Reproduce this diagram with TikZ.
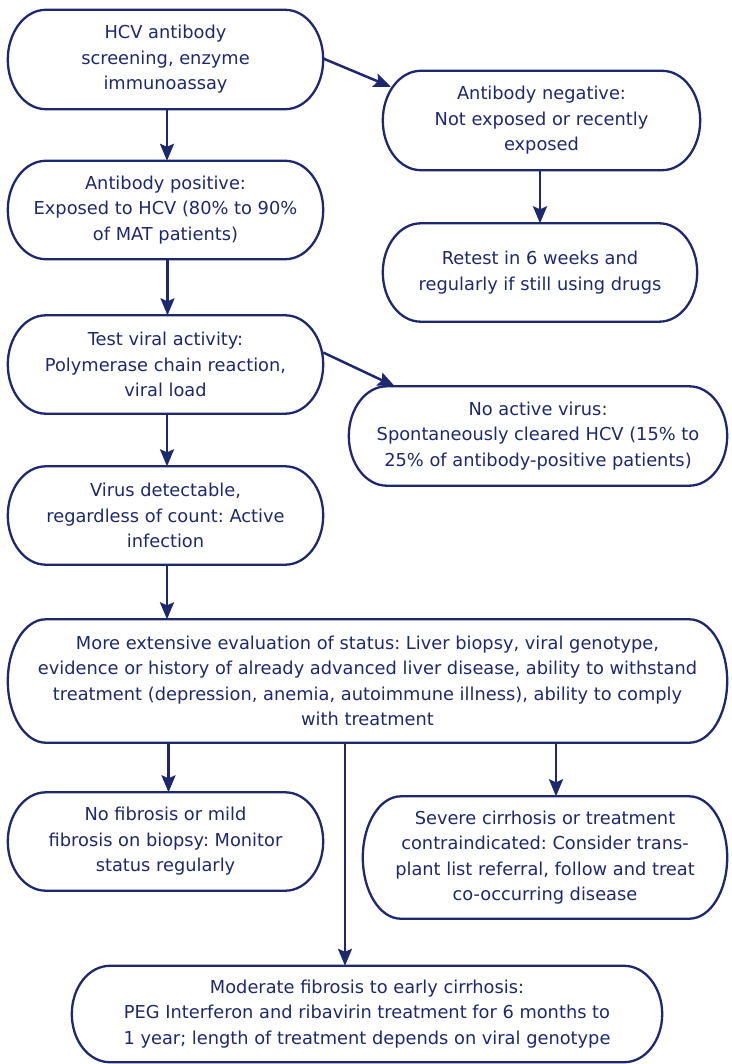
\documentclass[tikz,border=0pt]{standalone}
\usepackage{fontspec}
\setmainfont{DejaVu Sans}
\usetikzlibrary{arrows.meta,calc}
\definecolor{navy}{RGB}{30,40,110}
\tikzset{
  ln/.style={draw=navy, line width=2.3pt},
  arr/.style={draw=navy, line width=2.5pt, -{Stealth[length=17pt,width=14pt,inset=3pt]}},
  box/.style={inner sep=0pt, align=center, text=navy, font=\fontsize{17.8}{25.5}\selectfont},
}
\newcommand\pill[1]{%
  \draw[ln] let \p1=(#1.north), \p2=(#1.south), \n1={0.5*(\y1-\y2)} in
    ([xshift=38pt]#1.north west) -- ([xshift=-38pt]#1.north east)
    arc[start angle=90, end angle=-90, x radius=38pt, y radius=\n1]
    -- ([xshift=38pt]#1.south west)
    arc[start angle=270, end angle=90, x radius=38pt, y radius=\n1] -- cycle;}
\begin{document}
\frenchspacing
\begin{tikzpicture}[x=1pt,y=-1pt]
\useasboundingbox (0,0) rectangle (731,1064);
\node[box, minimum width=315pt, minimum height=99pt] (b1) at (165.5,59.5) {HCV antibody\\screening, enzyme\\immunoassay};
\node[box, minimum width=317pt, minimum height=99pt] (b2) at (541.5,120.5) {Antibody negative:\\Not exposed or recently\\exposed};
\node[box, minimum width=315pt, minimum height=98pt] (b3) at (165.5,210) {Antibody positive:\\Exposed to HCV (80\% to 90\%\\of MAT patients)};
\node[box, minimum width=314pt, minimum height=98pt] (b4) at (540,272.5) {Retest in 6 weeks and\\regularly if still using drugs};
\node[box, minimum width=315pt, minimum height=98pt] (b5) at (165.5,364.5) {Test viral activity:\\Polymerase chain reaction,\\viral load};
\node[box, minimum width=378pt, minimum height=99pt] (b6) at (538,436) {No active virus:\\Spontaneously cleared HCV (15\% to\\25\% of antibody-positive patients)};
\node[box, minimum width=315pt, minimum height=98pt] (b7) at (165.5,515.5) {Virus detectable,\\regardless of count: Active\\infection};
\node[box, minimum width=719pt, minimum height=123pt] (b8) at (367.5,681) {More extensive evaluation of status: Liver biopsy, viral genotype,\\evidence or history of already advanced liver disease, ability to withstand\\treatment (depression, anemia, autoimmune illness), ability to comply\\with treatment};
\node[box, minimum width=315pt, minimum height=98pt] (b9) at (165.5,841.5) {No fibrosis or mild\\fibrosis on biopsy: Monitor\\status regularly};
\node[box, minimum width=364pt, minimum height=122pt] (b10) at (545,857.5) {Severe cirrhosis or treatment\\contraindicated: Consider trans-\\plant list referral, follow and treat\\co-occurring disease};
\node[box, minimum width=590pt, minimum height=96pt] (b11) at (367,1014) {Moderate fibrosis to early cirrhosis:\\PEG Interferon and ribavirin treatment for 6 months to\\1 year; length of treatment depends on viral genotype};
\foreach \bx in {b1,b2,b3,b4,b5,b6,b7,b8,b9,b10,b11} {\pill{\bx}}
\draw[arr] ([xshift=1.5pt]b1.south) -- ([xshift=1.5pt]b3.north);
\draw[arr] ([yshift=1pt]b1.east) -- ([xshift=8pt,yshift=-16pt]b2.north west);
\draw[arr] (b4.north |- b2.south) -- (b4.north);
\draw[arr] ([xshift=2pt]b3.south) -- ([xshift=2pt]b5.north);
\draw[arr] ([yshift=12pt]b5.east) -- ([xshift=46pt]b6.north west);
\draw[arr] ([xshift=1.5pt]b5.south) -- ([xshift=1.5pt]b7.north);
\draw[arr] ([xshift=1.5pt]b7.south) -- ([xshift=1.5pt]b7.south |- b8.north);
\draw[arr] ([xshift=3pt]b9.north |- b8.south) -- ([xshift=3pt]b9.north);
\draw[arr] ([xshift=11pt]b10.north |- b8.south) -- ([xshift=11pt]b10.north);
\draw[arr] ([xshift=-22pt]b11.north |- b8.south) -- ([xshift=-22pt]b11.north);
\end{tikzpicture}
\end{document}
